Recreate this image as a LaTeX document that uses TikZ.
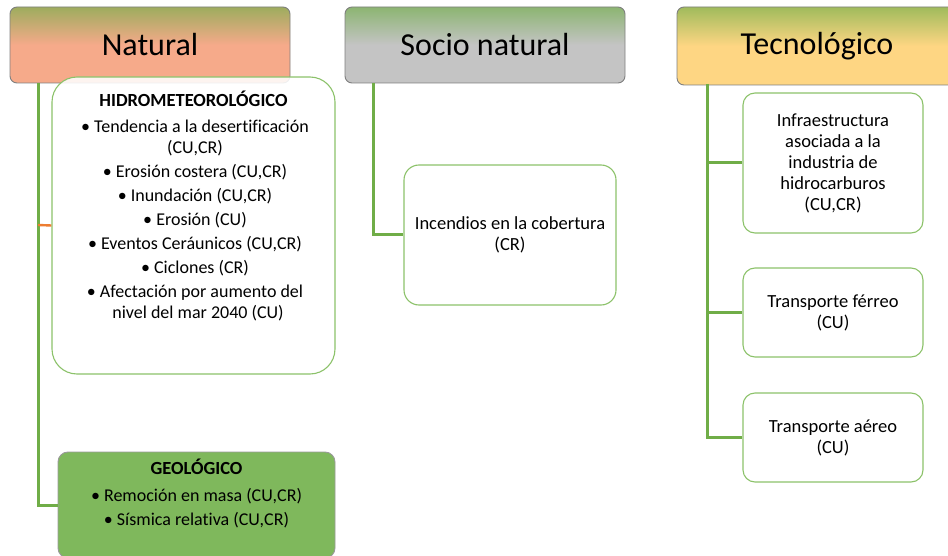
\documentclass[tikz,border=0pt]{standalone}
\usepackage{fontspec}
\setmainfont{Carlito}[Ligatures=NoCommon]
\definecolor{hgreen}{HTML}{6FAD47}
\definecolor{salmon}{HTML}{F6AA8A}
\definecolor{hgray}{HTML}{C4C4C4}
\definecolor{hyellow}{HTML}{FED683}
\definecolor{lgreen}{HTML}{70AD47}
\definecolor{bgreen}{HTML}{8CC26A}
\definecolor{geofill}{HTML}{7FB85C}
\definecolor{hborder}{HTML}{7F7F7F}
\definecolor{orangel}{HTML}{ED7D31}
\pgfdeclareverticalshading{natshade}{100bp}{color(0bp)=(salmon); color(50bp)=(salmon); color(88bp)=(hgreen); color(100bp)=(hgreen)}
\pgfdeclareverticalshading{socshade}{100bp}{color(0bp)=(hgray); color(50bp)=(hgray); color(88bp)=(hgreen); color(100bp)=(hgreen)}
\pgfdeclareverticalshading{tecshade}{100bp}{color(0bp)=(hyellow); color(50bp)=(hyellow); color(88bp)=(hgreen); color(100bp)=(hgreen)}
\tikzset{
  header/.style={draw=hborder, line width=0.9pt, rounded corners=7pt, minimum width=280pt, minimum height=76pt, inner sep=0pt, font=\fontsize{32}{36}\selectfont},
  childbox/.style={draw=bgreen, line width=1.1pt, fill=white, inner sep=0pt, align=center, font=\fontsize{18.5}{21}\selectfont},
  conn/.style={draw=lgreen, line width=3pt},
  bodytext/.style={inner sep=0pt, align=center, font=\fontsize{18}{21}\selectfont},
  titletext/.style={inner sep=0pt, font=\fontsize{18.5}{21}\selectfont\bfseries},
}
\begin{document}
\begin{tikzpicture}[x=1pt,y=-1pt]
\useasboundingbox (0,0) rectangle (948,556);
\clip (0,0) rectangle (948,556);
% headers
\node[header, shading=natshade] (nat) at (150,45) {Natural};
\node[header, shading=socshade] (soc) at (485,45) {Socio natural};
\node[header, shading=tecshade, minimum height=78pt] (tec) at (817,46) {Tecnológico};
% natural connectors
\coordinate (nattop) at (38,83);
\coordinate (natbot) at (38,505);
% hidro box
\node[draw=bgreen, line width=1.1pt, fill=white, fill opacity=0.88, rounded corners=25pt, minimum width=283pt, minimum height=297pt, inner sep=0pt] (hidro) at (193.5,225.5) {};
\node[draw=hborder!80, line width=0.9pt, fill=geofill, rounded corners=10pt, minimum width=277pt, minimum height=106pt, inner sep=0pt] (geo) at (196.5,505) {};
\draw[conn] (nattop) -- (natbot) -- (geo.west);
\draw[draw=orangel, line width=2.4pt] (38,225) -- (hidro.west);
% hidro text
\node[titletext] (hidrot) at (193.5,99) {HIDROMETEOROLÓGICO};
\node[bodytext, anchor=north] (hidrob) at (195,120) {%
• Tendencia a la desertificación\\ (CU,CR)\\[3pt]
• Erosión costera (CU,CR)\\[3pt]
• Inundación (CU,CR)\\[3pt]
• Erosión (CU)\\[3pt]
• Eventos Ceráunicos (CU,CR)\\[3pt]
• Ciclones (CR)\\[3pt]
• Afectación por aumento del\\ \hspace*{6pt}nivel del mar 2040 (CU)};
% geo text
\node[titletext] (geot) at (196.5,467) {GEOLÓGICO};
\node[bodytext, anchor=north] (geob) at (196.5,488) {%
• Remoción en masa (CU,CR)\\[3pt]
• Sísmica relativa (CU,CR)};
% socio
\node[childbox, rounded corners=15pt, minimum width=212pt, minimum height=140pt] (inc) at (510,235) {Incendios en la cobertura\\(CR)};
\draw[conn] (373,83) |- (inc.west);
% tecno
\node[childbox, rounded corners=12pt, minimum width=180pt, minimum height=140pt] (infra) at (833,163) {Infraestructura\\asociada a la\\industria de\\hidrocarburos\\(CU,CR)};
\node[childbox, rounded corners=12pt, minimum width=180pt, minimum height=89pt] (fer) at (833,312.5) {Transporte férreo\\(CU)};
\node[childbox, rounded corners=12pt, minimum width=180pt, minimum height=89pt] (aer) at (833,437.5) {Transporte aéreo\\(CU)};
\draw[conn] (707,84) |- (aer.west);
\draw[conn] (707,163) -- (infra.west);
\draw[conn] (707,312.5) -- (fer.west);
\end{tikzpicture}
\end{document}
